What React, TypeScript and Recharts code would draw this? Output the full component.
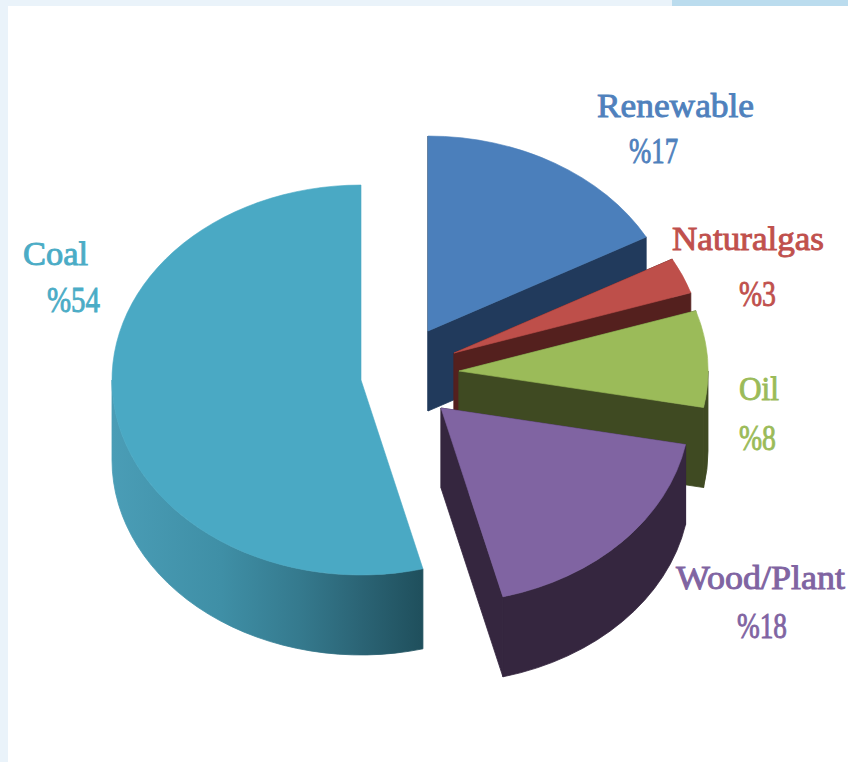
import React from "react";
import { PieChart, Pie } from "recharts";

const names = ["Renewable", "Naturalgas", "Oil", "Wood/Plant", "Coal"];
const shares = [17, 3, 8, 18, 54];
const data = names.map((name, i) => ({ name, value: shares[i] }));

const W = 848, H = 762;
const BASE = { x: 400, y: 370 };
const RX = 249, SQUASH = 0.783, DEPTH = 80;

const style: Record<string, any> = {
  Renewable: { dx: 28, dy: -39, top: "#4B7FBB", side: "#213A5C", label: "#4F81BD",
    name: [597, 117, 157], val: [629, 163, 49] },
  Naturalgas: { dx: 54, dy: -17, top: "#BE4F4A", side: "#54201E", label: "#C0504D",
    name: [672, 250, 152], val: [739, 306, 37] },
  Oil: { dx: 59, dy: 1, top: "#9BBB59", side: "#3F4A22", label: "#9BBB59",
    name: [739, 400, 40], val: [739, 450, 37] },
  "Wood/Plant": { dx: 41, dy: 38, top: "#8064A2", side: "#35263F", label: "#8064A2",
    name: [676, 589, 169], val: [737, 638, 50] },
  Coal: { dx: -39, dy: 10, top: "#4AA9C4", side: "url(#coalWall)", label: "#4BACC6",
    name: [23, 265, 65], val: [47, 312, 53] },
};

const pt = (cx: number, cy: number, deg: number, r: number) => {
  const a = (deg * Math.PI) / 180;
  return [cx + r * Math.cos(a), cy - r * SQUASH * Math.sin(a)];
};

const Slice3D = (p: any) => {
  const s = style[p.name];
  if (!s) return null;
  const cx = p.cx + s.dx, cy = p.cy + s.dy, r = p.outerRadius;
  const a0 = p.startAngle, a1 = p.endAngle;
  const [sx, sy] = pt(cx, cy, a0, r);
  const [ex, ey] = pt(cx, cy, a1, r);
  const large = Math.abs(a0 - a1) > 180 ? 1 : 0;
  const ry = r * SQUASH;
  const topPath = `M${cx},${cy}L${sx},${sy}A${r},${ry} 0 ${large} 1 ${ex},${ey}Z`;
  const face = (x: number, y: number) =>
    `M${cx},${cy}L${x},${y}L${x},${y + DEPTH}L${cx},${cy + DEPTH}Z`;
  const wStart = Math.min(a0, 0);
  const wEnd = Math.max(a1, -180);
  let wall = "";
  if (wStart > wEnd) {
    const [wx0, wy0] = pt(cx, cy, wStart, r);
    const [wx1, wy1] = pt(cx, cy, wEnd, r);
    wall = `M${wx0},${wy0}A${r},${ry} 0 0 1 ${wx1},${wy1}L${wx1},${wy1 + DEPTH}A${r},${ry} 0 0 0 ${wx0},${wy0 + DEPTH}Z`;
  }
  const isCoal = p.name === "Coal";
  const seam = { stroke: s.side, strokeWidth: 0.8 };
  return (
    <g>
      {!isCoal && <path d={face(sx, sy)} fill={s.side} {...seam} />}
      {!isCoal && <path d={face(ex, ey)} fill={s.side} {...seam} />}
      {wall && <path d={wall} fill={s.side} {...seam} />}
      <path d={topPath} fill={s.top} stroke={s.top} strokeWidth={0.6} />
    </g>
  );
};

const SliceLabel = (p: any) => {
  const s = style[p.name];
  if (!s) return null;
  const common = { fontFamily: "'Liberation Serif', serif", fill: s.label, lengthAdjust: "spacingAndGlyphs" as const, stroke: s.label, strokeWidth: 0.9 };
  return (
    <g>
      <text x={s.name[0]} y={s.name[1]} fontSize={33} textLength={s.name[2]} {...common}>{p.name}</text>
      <text x={s.val[0]} y={s.val[1]} fontSize={36} textLength={s.val[2]} {...common}>{`%${p.value}`}</text>
    </g>
  );
};

export default function App() {
  return (
    <div style={{ position: "absolute", left: 0, top: 0, width: W, height: H, background: "#FFFFFF", overflow: "hidden" }}>
      <div style={{ position: "absolute", left: 0, top: 0, width: 8, height: H, background: "#EAF3FA" }} />
      <div style={{ position: "absolute", left: 0, top: 0, width: W, height: 6, background: "#EAF3FA" }} />
      <div style={{ position: "absolute", left: 672, top: 0, width: W - 672, height: 6, background: "#BBDCEE" }} />
      <div style={{ position: "absolute", left: 0, top: 0 }}>
        <PieChart width={W} height={H} margin={{ top: 0, right: 0, bottom: 0, left: 0 }}>
          <defs>
            <linearGradient id="coalWall" gradientUnits="userSpaceOnUse" x1="112" y1="0" x2="423" y2="0">
              <stop offset="0" stopColor="#4A9DB6" />
              <stop offset="0.35" stopColor="#3F8FA6" />
              <stop offset="0.6" stopColor="#357A8E" />
              <stop offset="0.8" stopColor="#2B6475" />
              <stop offset="1" stopColor="#1F4F5C" />
            </linearGradient>
          </defs>
          <Pie
            data={data}
            dataKey="value"
            nameKey="name"
            cx={BASE.x}
            cy={BASE.y}
            innerRadius={0}
            outerRadius={RX}
            startAngle={90}
            endAngle={-270}
            stroke="none"
            shape={Slice3D}
            label={SliceLabel}
            labelLine={false}
            isAnimationActive={false}
          />
        </PieChart>
      </div>
    </div>
  );
}
